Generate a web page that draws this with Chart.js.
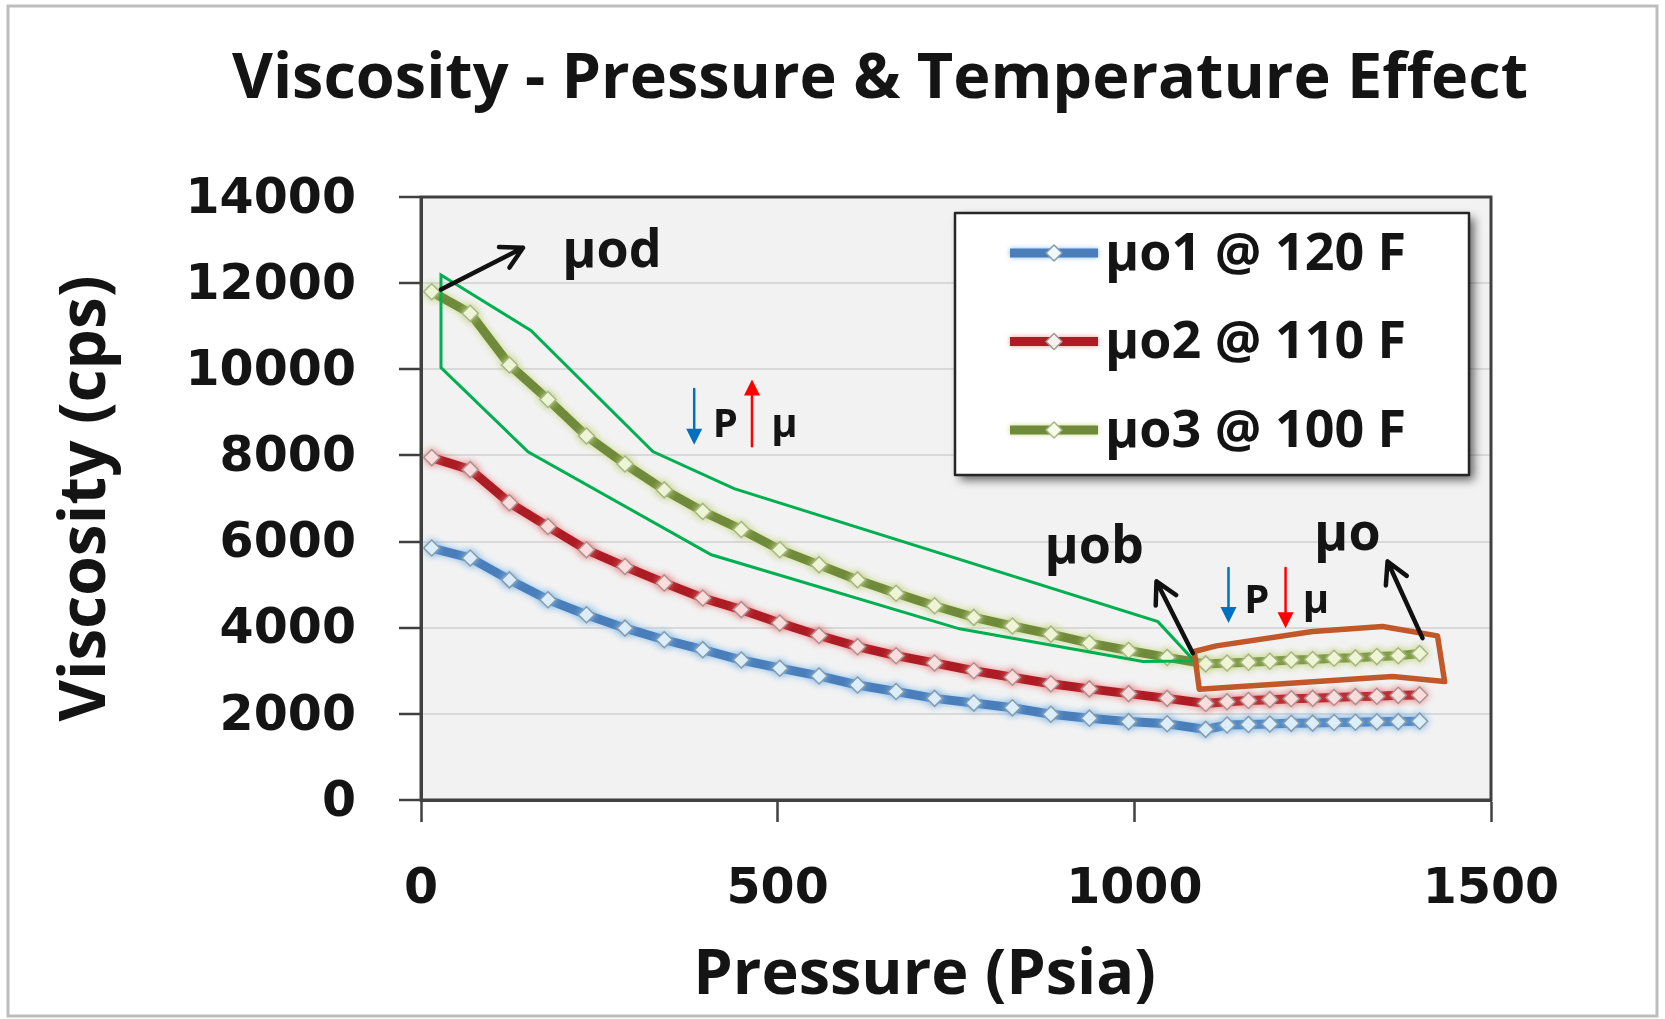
<!DOCTYPE html>
<html>
<head>
<meta charset="utf-8">
<title>Viscosity - Pressure & Temperature Effect</title>
<script src="https://cdn.jsdelivr.net/npm/chart.js@4.4.0/dist/chart.umd.min.js"></script>
<style>
    html, body { margin: 0; padding: 0; background: #fff; }
    #wrap { position: relative; width: 1665px; height: 1019px; }
</style>
</head>
<body>
<div id="wrap"><canvas id="chart"></canvas></div>
<script>

// pressure readings (psia)
var pressures = [15, 69, 124, 178, 232, 286, 341, 395, 449, 503, 558, 612, 666, 720, 775, 829, 883, 937, 992, 1046, 1100,
    1130, 1160, 1190, 1220, 1250, 1280, 1310, 1340, 1370, 1400];

// viscosity (cps) for each temperature
var mu120 = [5850, 5620, 5110, 4650, 4300, 3990, 3720, 3490, 3250, 3060, 2880, 2670, 2520, 2360, 2250, 2140, 1990, 1900, 1820, 1770, 1640,
    1740, 1755, 1765, 1780, 1785, 1800, 1805, 1815, 1820, 1830];
var mu110 = [7950, 7670, 6900, 6350, 5810, 5420, 5040, 4690, 4420, 4110, 3820, 3560, 3350, 3180, 3000, 2850, 2700, 2580, 2470, 2360, 2240,
    2280, 2310, 2330, 2350, 2360, 2380, 2400, 2410, 2430, 2440];
var mu100 = [11800, 11300, 10100, 9300, 8450, 7800, 7200, 6700, 6280, 5810, 5460, 5110, 4800, 4510, 4240, 4040, 3850, 3640, 3470, 3310, 3160,
    3180, 3200, 3220, 3250, 3260, 3290, 3300, 3330, 3350, 3400];

var seriesNames = ['μo1 @ 120 F', 'μo2 @ 110 F', 'μo3 @ 100 F'];
var xTicks = [0, 500, 1000, 1500];
var yTicks = [0, 2000, 4000, 6000, 8000, 10000, 12000, 14000];

var FONT = '"Open Sans", "DejaVu Sans", sans-serif';
var NUMFONT = '"DejaVu Sans", "Open Sans", sans-serif';
var INK = '#141414';

var lineColors = ['#4a7ebb', '#ad1c24', '#6f8a3a'];
var glowColors = ['rgba(125,185,235,0.9)', 'rgba(235,120,120,0.8)', 'rgba(195,215,125,0.9)'];
var markFill = ['#eef9ff', '#fff0ee', '#f7fce6'];
var markEdge = ['#8c9aa6', '#a89494', '#a9b38d'];

function toPoints(ys) {
    return pressures.map(function (p, i) {
        return {x: p, y: ys[i]};
    });
}

function makeSet(i, ys) {
    return {
        label: seriesNames[i],
        data: toPoints(ys),
        borderColor: lineColors[i],
        borderWidth: 9,
        tension: 0,
        pointStyle: 'rectRot',
        pointRadius: 8,
        pointBorderWidth: 1.5,
        pointBackgroundColor: markFill[i],
        pointBorderColor: markEdge[i],
        order: 3 - i
    };
}

// --- drawing helpers ---
function openArrow(ctx, x1, y1, x2, y2) {
    var a = Math.atan2(y2 - y1, x2 - x1), h = 24, s = 0.5;
    ctx.beginPath();
    ctx.moveTo(x1, y1);
    ctx.lineTo(x2, y2);
    ctx.moveTo(x2 - h * Math.cos(a - s), y2 - h * Math.sin(a - s));
    ctx.lineTo(x2, y2);
    ctx.lineTo(x2 - h * Math.cos(a + s), y2 - h * Math.sin(a + s));
    ctx.stroke();
}

function thinArrow(ctx, x, y1, y2, color) {
    var dir = y2 > y1 ? 1 : -1;
    ctx.strokeStyle = color;
    ctx.fillStyle = color;
    ctx.lineWidth = 2.5;
    ctx.beginPath();
    ctx.moveTo(x, y1);
    ctx.lineTo(x, y2 - dir * 12);
    ctx.stroke();
    ctx.beginPath();
    ctx.moveTo(x - 8, y2 - dir * 16);
    ctx.lineTo(x + 8, y2 - dir * 16);
    ctx.lineTo(x, y2);
    ctx.closePath();
    ctx.fill();
}

// the original title sits right of the page centre
var TITLE_CENTER = 880;
var titleShift = {
    id: 'titleShift',
    afterLayout: function (chart) {
        var t = chart.titleBlock;
        if (!t) return;
        var dx = TITLE_CENTER - (t.left + t.right) / 2;
        t.left += dx;
        t.right += dx;
    }
};

var backdrop = {
    id: 'backdrop',
    beforeDraw: function (chart) {
        var ctx = chart.ctx, a = chart.chartArea;
        ctx.save();
        ctx.fillStyle = '#fff';
        ctx.fillRect(0, 0, chart.width, chart.height);
        ctx.strokeStyle = '#bdbdbd';
        ctx.lineWidth = 3;
        ctx.strokeRect(8, 6, chart.width - 16, chart.height - 9);
        ctx.fillStyle = '#f2f2f2';
        ctx.fillRect(a.left, a.top, a.right - a.left, a.bottom - a.top);
        ctx.restore();
    }
};

var glow = {
    id: 'glow',
    beforeDatasetDraw: function (chart, args) {
        chart.ctx.save();
        chart.ctx.shadowColor = glowColors[args.index];
        chart.ctx.shadowBlur = 7;
    },
    afterDatasetDraw: function (chart) {
        chart.ctx.restore();
    }
};

var notes = {
    id: 'notes',
    afterDatasetsDraw: function (chart) {
        var ctx = chart.ctx, a = chart.chartArea;
        var xs = chart.scales.x, ys = chart.scales.y;
        function X(v) { return xs.getPixelForValue(v); }
        function Y(v) { return ys.getPixelForValue(v); }
        function path(pts, close) {
            ctx.beginPath();
            pts.forEach(function (p, i) {
                if (i === 0) ctx.moveTo(X(p[0]), Y(p[1])); else ctx.lineTo(X(p[0]), Y(p[1]));
            });
            if (close) ctx.closePath();
            ctx.stroke();
        }

        ctx.save();

        // plot frame
        ctx.strokeStyle = '#404040';
        ctx.lineWidth = 3;
        ctx.strokeRect(a.left, a.top, a.right - a.left, a.bottom - a.top);

        // dead-oil -> bubble point envelope
        ctx.strokeStyle = '#00b050';
        ctx.lineWidth = 3;
        ctx.lineJoin = 'miter';
        path([[28, 12190], [154, 10900], [325, 8090], [439, 7230], [1033, 4140], [1084, 3230],
            [1012, 3214], [755, 3974], [407, 5694], [150, 8083], [28, 10040]], true);

        // above bubble point box
        ctx.strokeStyle = '#c0582a';
        ctx.lineWidth = 5.5;
        ctx.lineJoin = 'round';
        path([[1084, 3447], [1115, 3579], [1250, 3911], [1348, 4028], [1425, 3811], [1435, 2749],
            [1362, 2866], [1091, 2573]], true);

        // black pointer arrows
        ctx.strokeStyle = '#111';
        ctx.lineWidth = 4.5;
        ctx.lineCap = 'round';
        openArrow(ctx, X(28), Y(11852), X(143), Y(12822));
        openArrow(ctx, X(1082), Y(3409), X(1031), Y(5074));
        openArrow(ctx, X(1404), Y(3758), X(1355), Y(5538));

        // labels
        ctx.fillStyle = INK;
        ctx.textAlign = 'left';
        ctx.textBaseline = 'alphabetic';
        ctx.font = 'bold 52px ' + FONT;
        ctx.fillText('μod', X(198), Y(12364));
        ctx.fillText('μob', X(874), Y(5508));
        ctx.fillText('μo', X(1252), Y(5810));

        // pressure / viscosity direction hints
        thinArrow(ctx, X(383), Y(9545), Y(8250), '#0070c0');
        thinArrow(ctx, X(464), Y(8211), Y(9761), '#ff0000');
        thinArrow(ctx, X(1132), Y(5385), Y(4107), '#0070c0');
        thinArrow(ctx, X(1212), Y(5385), Y(3990), '#ff0000');
        ctx.fillStyle = INK;
        ctx.font = 'bold 40px ' + FONT;
        ctx.fillText('P', X(409), Y(8436));
        ctx.fillText('μ', X(491), Y(8436));
        ctx.fillText('P', X(1154), Y(4346));
        ctx.fillText('μ', X(1236), Y(4346));

        // legend box
        var bw = 514, bh = 262;
        var bx = a.right - 22 - bw, by = a.top + 16;
        ctx.save();
        ctx.shadowColor = 'rgba(0,0,0,0.6)';
        ctx.shadowBlur = 9;
        ctx.shadowOffsetX = 5;
        ctx.shadowOffsetY = 5;
        ctx.fillStyle = '#fff';
        ctx.fillRect(bx, by, bw, bh);
        ctx.restore();
        ctx.strokeStyle = '#262626';
        ctx.lineWidth = 2.5;
        ctx.strokeRect(bx, by, bw, bh);

        var rows = [40, 128.5, 217];
        ctx.font = 'bold 52px ' + FONT;
        ctx.textBaseline = 'middle';
        chart.data.datasets.forEach(function (ds, i) {
            var ry = by + rows[i];
            ctx.save();
            ctx.shadowColor = glowColors[i];
            ctx.shadowBlur = 5;
            ctx.strokeStyle = lineColors[i];
            ctx.lineWidth = 9;
            ctx.lineCap = 'butt';
            ctx.beginPath();
            ctx.moveTo(bx + 55, ry);
            ctx.lineTo(bx + 143, ry);
            ctx.stroke();
            ctx.restore();
            ctx.fillStyle = markFill[i];
            ctx.strokeStyle = markEdge[i];
            ctx.lineWidth = 1.5;
            ctx.beginPath();
            ctx.moveTo(bx + 99 - 8, ry);
            ctx.lineTo(bx + 99, ry - 8);
            ctx.lineTo(bx + 99 + 8, ry);
            ctx.lineTo(bx + 99, ry + 8);
            ctx.closePath();
            ctx.fill();
            ctx.stroke();
            ctx.fillStyle = INK;
            ctx.fillText(ds.label, bx + 150, ry + 2);
        });

        ctx.restore();
    }
};

var chart = new Chart(document.getElementById('chart'), {
    type: 'line',
    data: {
        datasets: [makeSet(0, mu120), makeSet(1, mu110), makeSet(2, mu100)]
    },
    options: {
        responsive: true,
        maintainAspectRatio: false,
        animation: false,
        layout: {padding: {left: 0, right: 174, top: 0, bottom: 0}},
        plugins: {
            legend: {display: false},
            tooltip: {enabled: false},
            title: {
                display: true,
                text: 'Viscosity - Pressure & Temperature Effect',
                color: INK,
                font: {family: FONT, size: 63, weight: 'bold', lineHeight: 1.2},
                padding: {top: 42, bottom: 79.4}
            }
        },
        scales: {
            x: {
                type: 'linear',
                min: 0,
                max: 1500,
                afterBuildTicks: function (axis) {
                    axis.ticks = xTicks.map(function (v) { return {value: v}; });
                },
                afterFit: function (axis) { axis.height = 219; },
                grid: {drawOnChartArea: false, drawTicks: true, tickLength: 22, tickColor: '#404040', tickWidth: 2.5},
                border: {display: true, color: '#404040', width: 3},
                ticks: {
                    padding: 39,
                    color: INK,
                    maxRotation: 0,
                    font: {family: NUMFONT, size: 49, weight: 'bold'},
                    callback: function (v) { return String(v); }
                },
                title: {
                    display: true,
                    text: 'Pressure (Psia)\u2002\u2002',
                    color: INK,
                    font: {family: FONT, size: 63, weight: 'bold', lineHeight: 1.2},
                    padding: {top: 0, bottom: 5}
                }
            },
            y: {
                min: 0,
                max: 14000,
                afterBuildTicks: function (axis) {
                    axis.ticks = yTicks.map(function (v) { return {value: v}; });
                },
                afterFit: function (axis) { axis.width = 421; },
                grid: {color: '#d9d9d9', lineWidth: 2, drawTicks: true, tickLength: 22, tickColor: '#404040', tickWidth: 2.5},
                border: {display: true, color: '#404040', width: 3},
                ticks: {
                    padding: 43,
                    labelOffset: 3,
                    color: INK,
                    font: {family: NUMFONT, size: 49, weight: 'bold'},
                    callback: function (v) { return String(v); }
                },
                title: {
                    display: true,
                    text: 'Viscosity (cps)',
                    color: INK,
                    font: {family: FONT, size: 64, weight: 'bold', lineHeight: 1.2},
                    padding: {top: 48, bottom: 0}
                }
            }
        }
    },
    plugins: [titleShift, backdrop, glow, notes]
});

</script>
</body>
</html>
